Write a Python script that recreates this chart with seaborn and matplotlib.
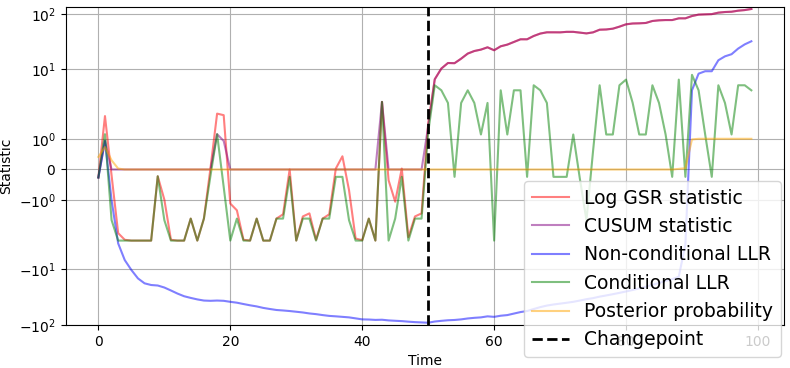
import numpy as np
import pandas as pd
import matplotlib
matplotlib.use("Agg")
import matplotlib.pyplot as plt
import seaborn as sns

# -------------------------
# Data
# -------------------------
time = np.arange(100)
changepoint = 50

log_gsr = [-0.26, 1.74, -0.19, -2.2, -2.9, -3, -3, -3, -3, -0.22,
           -0.98, -2.9, -3, -3, -1.6, -3, -1.6, 0.05, 1.82, 1.77,
           -1.11, -1.33, -2.9, -3, -1.6, -3, -3, -1.6, -1.46, 0.0,
           -3, -1.53, -1.43, -2.9, -1.6, -1.46, 0.03, 0.43, -0.67, -2.75,
           -2.95, -1.6, -3, 2.59, -0.35, -1.05, 0.03, -2.6, -1.53, -1.43,
           1.5, 6.65, 10.4, 13.1, 13.0, 15.7, 19.4, 21.6, 22.9, 25.2,
           22.3, 26.3, 28.2, 31.5, 35.2, 35.2, 40.4, 44.7, 47.1, 47.1,
           47.0, 48.0, 48.0, 46.5, 45.0, 47.0, 52.5, 53.0, 54.8, 59.6,
           65.7, 68.0, 68.5, 69.5, 75.5, 77.6, 78.5, 78.5, 84.3, 84.3,
           92.9, 98.4, 99.5, 100.5, 106.8, 109.7, 111.0, 116.0, 119.0, 124.5]

cusum = ([-0.26, 0.93] + [0.0] * 16 + [1.15, 0.93] + [0.0] * 23 + [2.59]
         + [0.0] * 6 + [1.4] + log_gsr[51:])

nonconditional_llr = [-0.26, 0.93, -1.0, -3.37, -6.76, -10.2, -14.5, -17.8, -19.1, -19.5,
                      -21.2, -24.0, -27.3, -30.5, -32.7, -34.8, -36.5, -36.9, -36.5, -36.9,
                      -38.5, -39.9, -42.2, -44.5, -46.6, -49.6, -51.9, -54.1, -55.2, -56.5,
                      -58.2, -60.0, -62.5, -64.3, -66.9, -69.2, -70.5, -72.0, -73.6, -76.7,
                      -80.0, -80.5, -81.8, -81.2, -83.5, -84.8, -86.0, -88.0, -89.7, -90.8,
                      -92.0, -87.5, -85.0, -83.0, -82.0, -80.0, -77.0, -75.0, -73.6, -70.5,
                      -72.0, -68.7, -66.9, -62.8, -59.0, -56.5, -52.0, -48.0, -45.0, -43.0,
                      -41.5, -40.0, -38.5, -36.5, -34.5, -33.0, -31.0, -29.5, -28.0, -26.5,
                      -25.0, -23.5, -22.0, -20.5, -19.0, -17.5, -16.0, -15.0, -13.5, -3.5,
                      4.2, 8.4, 9.3, 9.3, 14.7, 17.3, 18.9, 23.9, 28.5, 32.4]

conditional_llr = [-0.26, 1.15, -1.65, -3, -3, -3, -3, -3, -3, -0.22,
                   -1.65, -3, -3, -3, -1.6, -3, -1.6, -0.2, 1.15, -0.57,
                   -3, -1.6, -3, -3, -1.6, -3, -3, -1.6, -1.6, -0.24,
                   -3, -1.6, -1.6, -3, -1.6, -1.6, -0.24, -0.24, -1.65, -3,
                   -3, -1.6, -3, 2.59, -3, -1.6, -0.24, -3, -1.6, -1.6,
                   1.2, 5.18, 4.2, 2.48, -0.24, 2.48, 4.2, 2.48, 1.14, 2.48,
                   -3, 4.2, 1.14, 4.2, 4.2, -0.24, 5.18, 4.2, 2.48, -0.24,
                   -0.24, -0.24, 1.14, -0.3, -1.65, 0.6, 5.18, 1.14, 1.14, 5.18,
                   6.56, 2.5, 1.14, 1.14, 5.18, 2.48, 1.14, -0.24, 6.56, -0.24,
                   8.0, 4.2, 1.14, -0.24, 5.18, 2.48, 1.14, 5.18, 5.18, 4.2]

posterior = [0.41, 0.73, 0.3, 0.03] + [0.0] * 84 + [0.02, 0.04, 0.98] + [1.0] * 9

series = [("Log GSR statistic", log_gsr, "red"),
          ("CUSUM statistic", cusum, "purple"),
          ("Non-conditional LLR", nonconditional_llr, "blue"),
          ("Conditional LLR", conditional_llr, "green"),
          ("Posterior probability", posterior, "orange")]

# -------------------------
# Plot
# -------------------------
fig, ax = plt.subplots(figsize=(7.9, 3.68), dpi=100)
fig.subplots_adjust(left=0.0832, right=0.9924, bottom=0.1168, top=0.9818)

for name, values, color in series:
    sns.lineplot(x=time, y=values, color=color, alpha=0.5, label=name, ax=ax, linewidth=1.5)

ax.axvline(changepoint, color="black", linestyle="--", linewidth=2, label="Changepoint")

ax.set_yscale("symlog")
all_vals = np.concatenate([np.asarray(v, dtype=float) for _, v, _ in series])
ax.set_ylim(all_vals.min() * 1.1, all_vals.max() * 1.1)
ax.set_xlabel("Time")
ax.set_ylabel("Statistic")
ax.grid(True)

ax.legend(loc="lower right", bbox_to_anchor=(0.9886, 0.0299),
          bbox_transform=fig.transFigure, borderaxespad=0, fontsize=13.5)

plt.savefig("out.png")
